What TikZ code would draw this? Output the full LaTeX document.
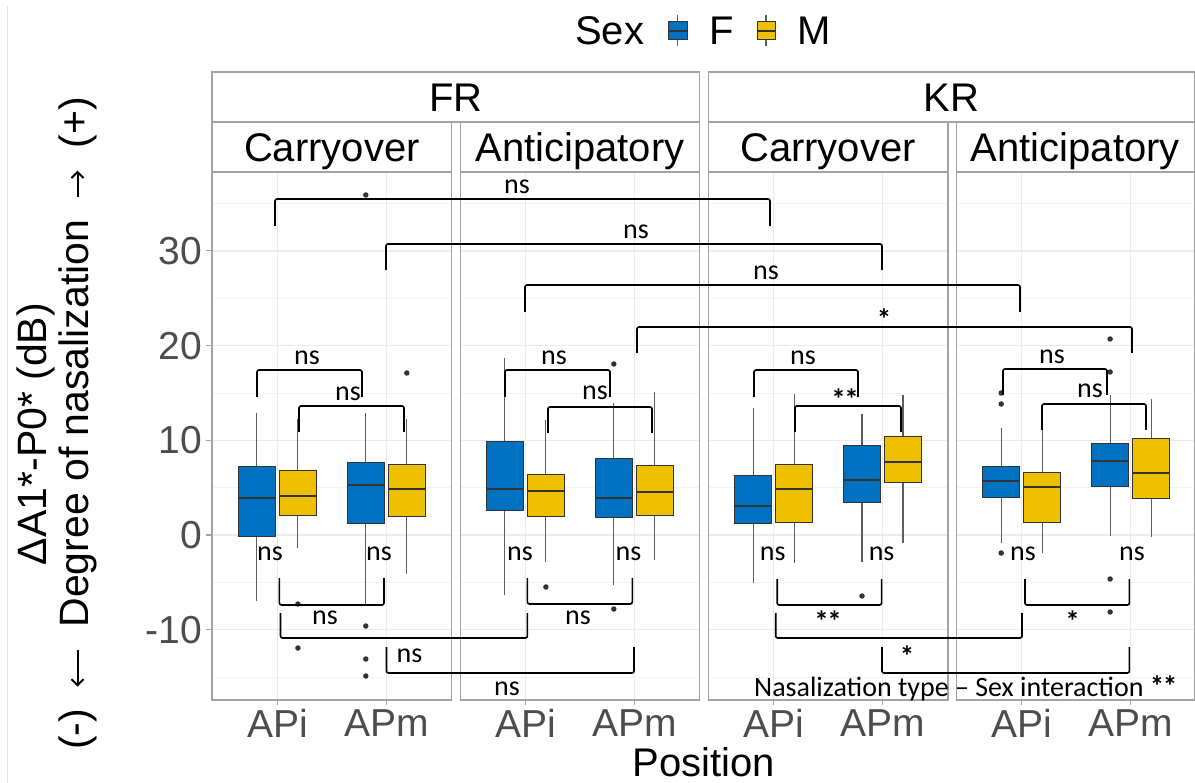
\documentclass[tikz,border=0pt]{standalone}
\usepackage{fontspec}
\setmainfont{Liberation Sans}
\newfontfamily\carlitofont{Carlito}
\usetikzlibrary{arrows.meta}
\definecolor{fblue}{HTML}{0070C0}
\definecolor{myellow}{HTML}{EEC000}
\definecolor{gridgray}{HTML}{EBEBEB}
\definecolor{framegray}{HTML}{A3A3A3}
\definecolor{whiskgray}{HTML}{5E5E5E}
\definecolor{boxgray}{HTML}{333333}
\definecolor{tickgray}{HTML}{4D4D4D}
\newcommand{\tickfnt}{\fontsize{39}{46}\selectfont}
\newcommand{\titlefnt}{\fontsize{40}{48}\selectfont}
\newcommand{\ytitlefnt}{\fontsize{41}{49}\selectfont}
\newcommand{\annfnt}{\carlitofont\fontsize{28}{33}\selectfont}
\newcommand{\starfnt}{\carlitofont\bfseries\fontsize{29}{35}\selectfont}
\newcommand{\twostars}{*\kern-1.5pt*}
\begin{document}
\begin{tikzpicture}[x=1pt,y=-1pt,
                majorgrid/.style={gridgray,line width=1.4pt},
                minorgrid/.style={gridgray!60!white,line width=0.7pt},
                frame/.style={draw=framegray,line width=1.2pt},
                whisker/.style={draw=whiskgray,line width=1.1pt},
                boxline/.style={draw=boxgray,line width=1pt},
                medline/.style={draw=boxgray,line width=2.4pt},
                outlier/.style={circle,fill=boxgray,inner sep=0pt,minimum size=5.5pt},
                sigbar/.style={black,line width=1.6pt,rounded corners=2pt},
                sig/.style={font=\annfnt,inner sep=0pt},
                stars/.style={font=\starfnt,inner sep=0pt},
                ticklab/.style={font=\tickfnt,text=tickgray,inner sep=0pt},
                striplab/.style={font=\titlefnt,inner sep=0pt,anchor=base},
                ytitle/.style={font=\ytitlefnt,rotate=90,inner sep=0pt},
                nasarrow/.style={-{Straight Barb[length=6pt,width=12pt]},line width=2pt}]
                \useasboundingbox (0,0) rectangle (1195,783);
                \fill[white] (0,0) rectangle (1195,783);
                \draw[gray!22,line width=0.8pt] (7.5,6) -- (7.5,783);

                \foreach \pl/\pr in {212/451.7,460.1/699.8,708.2/947.9,956.3/1194.3}
                {
                \foreach \v in {-15,-5,...,35} \draw[minorgrid] (\pl,535-9.47*\v) -- (\pr,535-9.47*\v);
                \foreach \v in {-10,0,...,30} \draw[majorgrid] (\pl,535-9.47*\v) -- (\pr,535-9.47*\v);
                \draw[majorgrid] (\pl+65.4,172) -- (\pl+65.4,700) (\pl+174.3,172) -- (\pl+174.3,700);
                \draw[frame] (\pl,172) rectangle (\pr,700);
                \draw[frame] (\pl,122) rectangle (\pr,172);
                \draw[frame] (\pl+65.4,700) -- ++(0,5) (\pl+174.3,700) -- ++(0,5);
                \node[ticklab] at (\pl+65.4,723) {APi};
                \node[ticklab] at (\pl+174.3,723) {APm};
                }
                \foreach \v in {-10,0,...,30}
                {
                \draw[frame] (206,535-9.47*\v) -- (212,535-9.47*\v);
                \node[ticklab,anchor=east] at (202,535-9.47*\v) {\v};
                }

                \draw[frame] (212,72) rectangle (699.8,122);
                \draw[frame] (708.2,72) rectangle (1194.3,122);
                \node[striplab] at (455.9,112) {FR};
                \node[striplab] at (951.2,112) {KR};
                \node[striplab] at (331.9,162) {Carryover};
                \node[striplab] at (580,162) {Anticipatory};
                \node[striplab] at (828,162) {Carryover};
                \node[striplab] at (1075.3,162) {Anticipatory};

                \foreach \x/\wt/\qt/\md/\qb/\wb/\c in {256.9/413/467/498/537/601/fblue,297.9/419/471/496/516/548/myellow,
                        365.8/413/463/485/524/606/fblue,406.8/419/465/489/517/574/myellow,
                        504.9/358/442/489/511/595/fblue,545.9/420/475/491/517/562/myellow,
                        613.8/403/459/498/518/585/fblue,654.8/392/466/492/516/560/myellow,
                        753.1/408/476/506/524/583/fblue,794.1/394/465/489/523/563/myellow,
                        862.0/414/446/480/503/562/fblue,903.0/395/437/462/483/543/myellow,
                        1001.2/428/467/481/498/543/fblue,1042.2/430/473/487/523/553/myellow,
                        1110.1/395/444/461/487/536/fblue,1151.1/399/439/473/499/537/myellow}
                {
                \draw[whisker] (\x,\wt) -- (\x,\qt) (\x,\qb) -- (\x,\wb);
                \draw[boxline,fill=\c] (\x-18.4,\qt) rectangle (\x+18.4,\qb);
                \draw[medline] (\x-18.4,\md) -- (\x+18.4,\md);
                }
                \foreach \x/\y in {297.9/604,297.9/648,365.8/195,365.8/626,365.8/659,365.8/676,406.8/373,
                        545.9/587,613.8/364,613.8/609,862.0/596,1001.2/393,1001.2/404,1001.2/553,
                        1110.1/339,1110.1/372,1110.1/579,1110.1/612}
                \node[outlier] at (\x,\y) {};

                \foreach \xa/\xb/\yb/\ye in {257/362/370/397,299/404/406/432,505/610/370/397,548/652/407/433,
                        754/858/370/397,795/901/406/432,1003/1107/369/395,1042/1146/404/430,
                        275/770/199/226,386/882/244/270,525/1020/285/312,637/1132/327/353,
                        279.4/384/605/578,280.5/527.4/638/613,386.5/634/673/647,527.4/632.3/604/578,
                        777.2/881.6/605/579,775.7/1022/638/613,882/1129.4/673/647,1025/1129.4/605/579}
                \draw[sigbar] (\xa,\ye) -- (\xa,\yb) -- (\xb,\yb) -- (\xb,\ye);

                \foreach \x/\y in {307/358,348/394,554/358,595/393,803/358,1052/357,1090/391,
                        517/187,636/232,766/273,270/554,379/554,520/554,628.5/554,772.7/554,881.6/554,
                        1023/554,1132/554,325/618,578/618,409.5/656,507/689}
                \node[sig] at (\x,\y) {ns};
                \foreach \x/\y in {845/399,828/621}
                \node[stars] at (\x,\y) {\twostars};
                \foreach \x/\y in {884/319,1072.5/621,907/656}
                \node[stars] at (\x,\y) {*};
                \node[sig,anchor=base west] at (754,696) {Nasalization type – Sex interaction {\starfnt\twostars}};

                \node[font=\titlefnt,anchor=base west,inner sep=0pt] at (575,45) {Sex};
                \draw[whisker] (677.5,15) -- (677.5,46);
                \draw[boxline,fill=fblue] (668,22) rectangle (687,40);
                \draw[boxline,line width=1.6pt] (668,31) -- (687,31);
                \node[font=\titlefnt,anchor=base west,inner sep=0pt] at (709,45) {F};
                \draw[whisker] (766,15) -- (766,46);
                \draw[boxline,fill=myellow] (757,22) rectangle (775,40);
                \draw[boxline,line width=1.6pt] (757,31) -- (775,31);
                \node[font=\titlefnt,anchor=base west,inner sep=0pt] at (797,45) {M};

                \node[font=\titlefnt,anchor=base,inner sep=0pt] at (703.6,776) {Position};
                \node[ytitle,anchor=base] (measure) at (46,434) {ΔA1*-P0* (dB)};
                \node[ytitle,anchor=base west] (negend) at (88,750) {(-)};
                \node[ytitle,anchor=base east] (posend) at (88,97) {(+)};
                \node[ytitle,anchor=base] (degree) at (88,423.5) {Degree of nasalization};
                \draw[nasarrow] ([xshift=-10.5pt,yshift=-22pt]degree.base west) -- ([xshift=-10.5pt,yshift=22pt]negend.base east);
                \draw[nasarrow] ([xshift=-10.5pt,yshift=22pt]degree.base east) -- ([xshift=-10.5pt,yshift=-22pt]posend.base west);

                \end{tikzpicture}
\end{document}
